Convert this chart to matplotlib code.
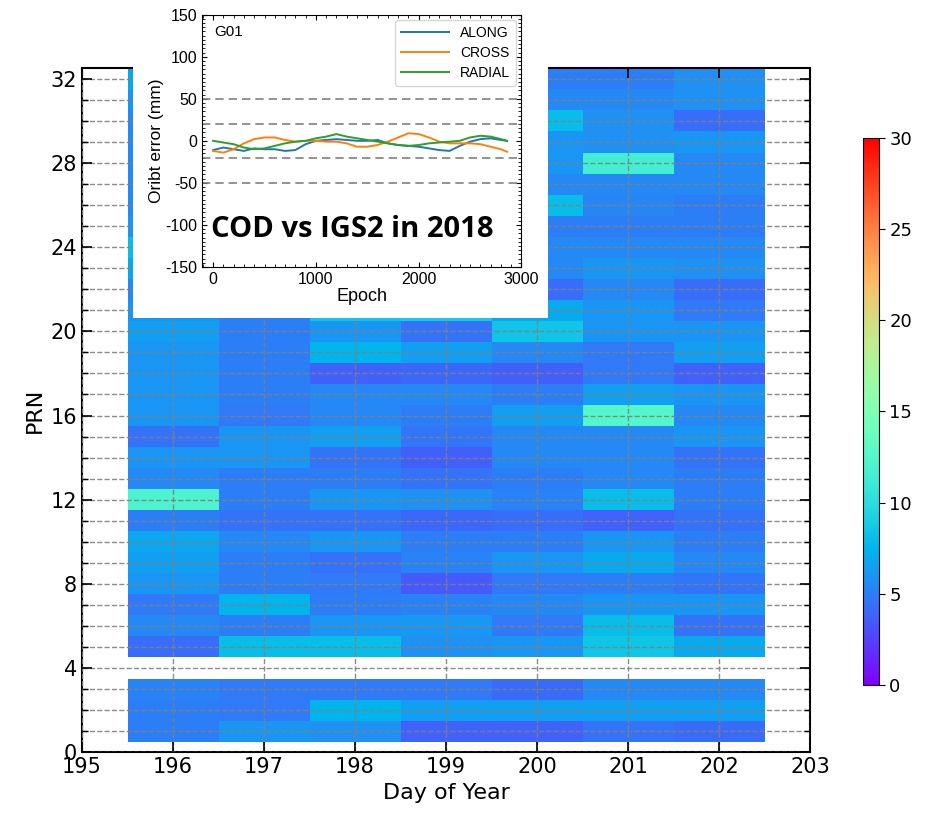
import numpy as np
import matplotlib
matplotlib.use('Agg')
import matplotlib.pyplot as plt
from matplotlib.patches import Rectangle
from matplotlib.ticker import MultipleLocator, AutoMinorLocator

plt.rcParams['axes.unicode_minus'] = False

# PRN order of every day list below (PRN 4 has no data)
prns = [1, 2, 3] + list(range(5, 33))
days = [196, 197, 198, 199, 200, 201, 202]

# daily orbit error (mm) per PRN
day196 = [5.0, 5.0, 5.2, 4.3, 5.5, 4.8, 6.0, 6.5, 6.8, 5.0, 12.0, 5.5, 6.0, 4.5, 6.0, 6.0,
          6.0, 6.0, 6.5, 6.0, 5.5, 7.0, 8.0, 6.0, 5.5, 5.5, 5.5, 5.5, 5.5, 6.0, 7.0]
day197 = [6.0, 4.8, 4.8, 8.0, 5.0, 7.5, 5.0, 5.0, 5.5, 4.5, 5.0, 5.0, 6.0, 6.0, 4.8, 5.0,
          5.0, 5.0, 5.0, 5.0, 5.5, 5.0, 5.5, 6.0, 5.0, 5.5, 5.0, 5.5, 5.0, 5.5, 5.0]
day198 = [5.8, 7.5, 4.8, 8.0, 6.0, 5.0, 4.8, 4.5, 6.0, 4.5, 6.0, 5.0, 4.5, 6.5, 5.5, 5.5,
          3.8, 7.5, 6.0, 8.5, 6.0, 5.5, 6.0, 5.5, 6.0, 5.5, 6.0, 5.5, 6.0, 5.5, 6.0]
day199 = [3.8, 6.5, 4.8, 5.8, 6.2, 5.2, 3.5, 5.2, 5.0, 4.1, 5.8, 4.5, 3.7, 4.6, 5.0, 5.5,
          4.0, 6.5, 4.5, 8.8, 5.5, 5.0, 5.5, 6.0, 5.0, 5.5, 5.0, 6.0, 5.5, 5.0, 5.5]
day200 = [3.8, 6.5, 4.2, 6.0, 4.8, 5.5, 4.8, 6.0, 5.0, 4.3, 5.2, 5.0, 5.5, 5.5, 6.5, 5.0,
          3.7, 5.5, 8.5, 7.0, 4.3, 5.5, 5.5, 5.0, 8.0, 5.5, 6.0, 6.0, 8.0, 5.5, 5.0]
day201 = [4.5, 6.5, 5.5, 8.5, 8.0, 6.0, 5.0, 7.0, 6.0, 3.8, 8.0, 5.5, 5.5, 5.5, 12.5, 6.5,
          4.7, 4.8, 6.0, 6.0, 5.5, 6.0, 5.5, 5.0, 5.3, 5.5, 11.5, 5.8, 5.8, 5.5, 5.0]
day202 = [4.2, 6.5, 5.5, 7.0, 4.5, 6.0, 4.6, 5.5, 5.0, 4.5, 5.0, 5.0, 4.5, 6.0, 5.5, 6.0,
          3.8, 6.5, 6.0, 4.8, 4.3, 5.8, 5.5, 5.0, 5.0, 5.5, 5.5, 6.0, 4.3, 5.8, 5.8]

# G01 orbit error series for the inset (mm)
epoch = [0, 100, 200, 300, 400, 500, 600, 700, 800, 900, 1000, 1100, 1200, 1300, 1400,
         1500, 1600, 1700, 1800, 1900, 2000, 2100, 2200, 2300, 2400, 2500, 2600, 2700, 2800, 2860]
along = [-11, -8, -10, -12, -9, -10, -10, -12, -11, -4, 0, 1, 2, 1, 0,
         0, 1, -3, -5, -6, -7, -9, -11, -12, -6, -1, 2, 3, 1, 0]
cross = [-12, -14, -10, -3, 2, 4, 4, 1, -1, 0, 0, -1, -1, -3, -7,
         -7, -5, -1, 4, 9, 8, 4, -1, -3, -3, -3, -4, -7, -10, -13]
radial = [0, -2, -4, -8, -10, -9, -6, -3, -1, 0, 3, 5, 8, 5, 3,
          1, -1, -3, -5, -6, -5, -3, -2, -1, 0, 4, 6, 5, 2, 0]

# build the PRN x day grid (PRN 1..32, NaN for PRN 4)
cols = [day196, day197, day198, day199, day200, day201, day202]
grid = np.full((32, len(days)), np.nan)
for j, col in enumerate(cols):
	for p, v in zip(prns, col):
		grid[p - 1, j] = v
grid = np.ma.masked_invalid(grid)

x_edges = np.arange(days[0] - 0.5, days[-1] + 1.0, 1.0)
y_edges = np.arange(0.5, 33.0, 1.0)

fig = plt.figure(figsize=(9.43, 8.14), dpi=100)
ax = fig.add_axes([0.087, 0.076, 0.772, 0.840])

mesh = ax.pcolormesh(x_edges, y_edges, grid, cmap='rainbow', vmin=0, vmax=30)

ax.set_xlim(195, 203)
ax.set_ylim(0, 32.5)
ax.xaxis.set_major_locator(MultipleLocator(1))
ax.yaxis.set_major_locator(MultipleLocator(4))
ax.yaxis.set_minor_locator(MultipleLocator(1))
ax.tick_params(which='both', direction='in', top=True, right=True, labelsize=15)
ax.tick_params(which='major', length=7, width=1.2)
ax.tick_params(which='minor', length=4, width=1)
ax.grid(True, which='both', axis='y', linestyle='--', color='gray', linewidth=1, alpha=0.9)
ax.grid(True, which='major', axis='x', linestyle='--', color='gray', linewidth=1, alpha=0.9)
ax.set_axisbelow(False)
for s in ax.spines.values():
	s.set_linewidth(1.5)
ax.set_xlabel('Day of Year', fontsize=16)
ax.set_ylabel('PRN', fontsize=16)

cax = fig.add_axes([0.915, 0.158, 0.017, 0.673])
cb = fig.colorbar(mesh, cax=cax, ticks=range(0, 31, 5))
cb.ax.tick_params(labelsize=13, length=4)

# white box behind the inset
fig.patches.append(Rectangle((0.141, 0.609), 0.440, 0.40, transform=fig.transFigure,
							 facecolor='white', edgecolor='none', zorder=1.5))

sans = 'Liberation Sans'
iax = fig.add_axes([0.214, 0.672, 0.339, 0.310], zorder=2)
iax.plot(epoch, along, color='C0', lw=1.4, label='ALONG')
iax.plot(epoch, cross, color='C1', lw=1.4, label='CROSS')
iax.plot(epoch, radial, color='C2', lw=1.4, label='RADIAL')
for h in [50, 20, -20, -50]:
	iax.axhline(h, color='gray', ls='--', lw=1.2, dashes=(5, 3))
iax.set_xlim(-110, 3000)
iax.set_ylim(-150, 150)
iax.set_yticks(range(-150, 151, 50))
iax.set_xticks([0, 1000, 2000, 3000])
iax.xaxis.set_minor_locator(AutoMinorLocator(10))
iax.yaxis.set_minor_locator(AutoMinorLocator(10))
iax.tick_params(which='both', direction='in', top=True, right=True, labelsize=11.5)
iax.tick_params(which='minor', length=2)
for lab in iax.get_xticklabels() + iax.get_yticklabels():
	lab.set_family(sans)
iax.set_xlabel('Epoch', fontsize=13, labelpad=1, family=sans)
iax.set_ylabel('Oribt error (mm)', fontsize=12.5, labelpad=1, family=sans)
iax.text(0.04, 0.93, 'G01', transform=iax.transAxes, fontsize=11, va='center', family=sans)
iax.text(0.03, 0.15, 'COD vs IGS2 in 2018', transform=iax.transAxes, fontsize=21,
		 fontweight='bold', family='Open Sans', va='center')
iax.legend(loc='upper right', prop={'family': sans, 'size': 10}, handlelength=3.5,
		   labelspacing=0.45, borderaxespad=0.4)

fig.savefig('out.png', dpi=100)
